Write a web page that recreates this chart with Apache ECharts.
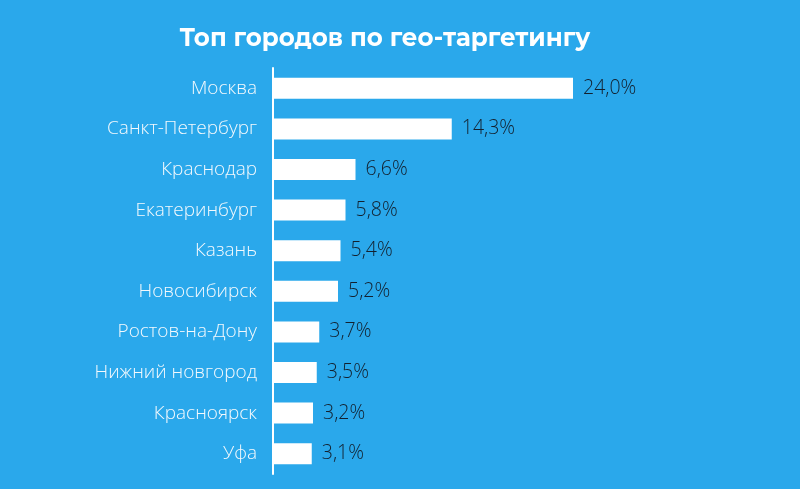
<!DOCTYPE html>
<html>
<head>
<meta charset="utf-8">
<script src="https://cdn.jsdelivr.net/npm/echarts@6/dist/echarts.min.js"></script>
<style>
html, body { margin: 0; padding: 0; background: #2aa8eb; }
#chart { width: 800px; height: 489px; }
</style>
</head>
<body>
<div id="chart"></div>
<script>
var cities = ['Москва', 'Санкт-Петербург', 'Краснодар', 'Екатеринбург', 'Казань',
              'Новосибирск', 'Ростов-на-Дону', 'Нижний новгород', 'Красноярск', 'Уфа'];
var shares = [24.0, 14.3, 6.6, 5.8, 5.4, 5.2, 3.7, 3.5, 3.2, 3.1];

var chart = echarts.init(document.getElementById('chart'));
var option = {
    backgroundColor: '#2aa8eb',
    title: {
        text: 'Топ городов по гео-таргетингу',
        left: 380,
        textAlign: 'center',
        top: 21,
        textStyle: {
            color: '#fff',
            fontSize: 24.5,
            fontWeight: 'bold',
            fontFamily: 'Montserrat, "Noto Sans", sans-serif'
        }
    },
    grid: { left: 273, right: 227, top: 68, bottom: 15 },
    xAxis: {
        type: 'value',
        min: 0,
        max: 24,
        show: false
    },
    yAxis: {
        type: 'category',
        inverse: true,
        data: cities,
        axisLine: { lineStyle: { color: '#fff', width: 2 } },
        axisTick: { show: false },
        axisLabel: {
            color: '#f4f9fd',
            fontSize: 19,
            fontWeight: 300,
            margin: 16,
            fontFamily: '"Open Sans", sans-serif'
        }
    },
    series: [{
        type: 'bar',
        data: shares,
        barWidth: 21,
        itemStyle: { color: '#fff' },
        label: {
            show: true,
            position: 'right',
            distance: 10,
            color: '#13202e',
            fontSize: 19.5,
            fontWeight: 300,
            fontFamily: '"Open Sans", sans-serif',
            formatter: function (p) { return p.value.toFixed(1).replace('.', ',') + '%'; }
        }
    }]
};
chart.setOption(option);
</script>
</body>
</html>
